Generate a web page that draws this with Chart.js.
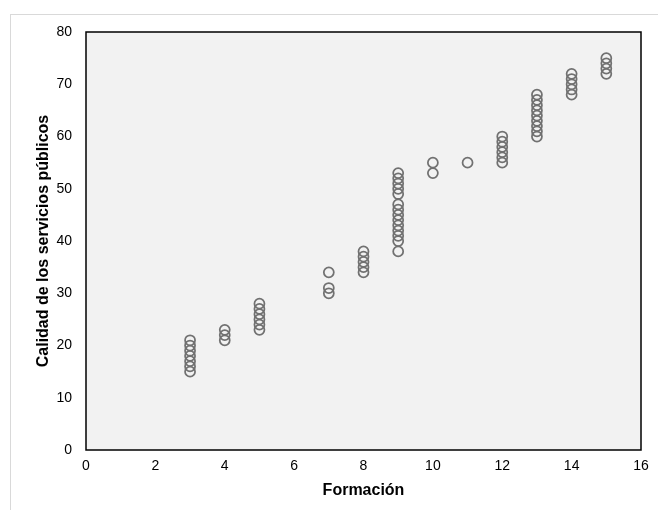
<!DOCTYPE html>
<html>
<head>
<meta charset="utf-8">
<script src="https://cdn.jsdelivr.net/npm/chart.js@4"></script>
<style>
  html, body { margin: 0; padding: 0; background: #fff; }
</style>
</head>
<body>
<canvas id="chart" width="658" height="510"></canvas>
<script>
const formacion = [
  3, 3, 3, 3, 3, 3, 3,
  4, 4, 4,
  5, 5, 5, 5, 5, 5,
  7, 7, 7,
  8, 8, 8, 8, 8,
  9, 9, 9, 9, 9, 9, 9, 9, 9, 9, 9, 9, 9, 9,
  10, 10,
  11,
  12, 12, 12, 12, 12, 12,
  13, 13, 13, 13, 13, 13, 13, 13, 13,
  14, 14, 14, 14, 14,
  15, 15, 15, 15
]
const calidad = [
  15, 16, 17, 18, 19, 20, 21,
  21, 22, 23,
  23, 24, 25, 26, 27, 28,
  30, 31, 34,
  34, 35, 36, 37, 38,
  38, 40, 41, 42, 43, 44, 45, 46, 47, 49, 50, 51, 52, 53,
  53, 55,
  55,
  55, 56, 57, 58, 59, 60,
  60, 61, 62, 63, 64, 65, 66, 67, 68,
  68, 69, 70, 71, 72,
  72, 73, 74, 75
]
const xTicks = [0, 2, 4, 6, 8, 10, 12, 14, 16]
const yTicks = [0, 10, 20, 30, 40, 50, 60, 70, 80]

const points = formacion.map((x, i) => ({ x, y: calidad[i] }))

// white page, light frame and grey plot area
const background = {
  id: 'background',
  beforeDraw(chart) {
    const { ctx, chartArea: a } = chart
    ctx.save()
    ctx.fillStyle = '#fff'
    ctx.fillRect(0, 0, chart.width, chart.height)
    ctx.strokeStyle = '#d9d9d9'
    ctx.lineWidth = 1
    ctx.strokeRect(10.5, 14.5, 700, 600)
    ctx.fillStyle = '#f2f2f2'
    ctx.fillRect(a.left, a.top, a.right - a.left, a.bottom - a.top)
    ctx.restore()
  },
  afterDatasetsDraw(chart) {
    const { ctx, chartArea: a } = chart
    ctx.save()
    ctx.strokeStyle = '#000'
    ctx.lineWidth = 1.5
    ctx.strokeRect(a.left, a.top, a.right - a.left, a.bottom - a.top)
    ctx.restore()
  }
}

new Chart(document.getElementById('chart'), {
  type: 'scatter',
  data: {
    datasets: [{
      data: points,
      pointStyle: 'circle',
      pointRadius: 5,
      pointBorderWidth: 1.75,
      borderColor: '#717171',
      backgroundColor: 'rgba(0,0,0,0)'
    }]
  },
  plugins: [background],
  options: {
    responsive: false,
    animation: false,
    layout: { padding: { left: 10, top: 32, right: 17, bottom: 0 } },
    plugins: { legend: { display: false }, tooltip: { enabled: false } },
    scales: {
      x: {
        type: 'linear',
        min: 0,
        max: 16,
        afterBuildTicks: (s) => { s.ticks = xTicks.map(v => ({ value: v })) },
        afterFit: (s) => { s.height = 60 },
        grid: { display: false, drawTicks: false },
        border: { display: false },
        ticks: { padding: 8, color: '#000', font: { family: 'Liberation Sans', size: 14 } },
        title: {
          display: true,
          text: 'Formación',
          color: '#000',
          padding: { top: 0, bottom: 10 },
          font: { family: 'Liberation Sans', size: 16, weight: 'bold' }
        }
      },
      y: {
        min: 0,
        max: 80,
        afterBuildTicks: (s) => { s.ticks = yTicks.map(v => ({ value: v })) },
        afterFit: (s) => { s.width = 76 },
        grid: { display: false, drawTicks: false },
        border: { display: false },
        ticks: { padding: 14, color: '#000', font: { family: 'Liberation Sans', size: 14 } },
        title: {
          display: true,
          text: 'Calidad de los servicios públicos',
          color: '#000',
          padding: { top: 24, bottom: 0 },
          font: { family: 'Liberation Sans', size: 16, weight: 'bold' }
        }
      }
    }
  }
})
</script>
</body>
</html>
